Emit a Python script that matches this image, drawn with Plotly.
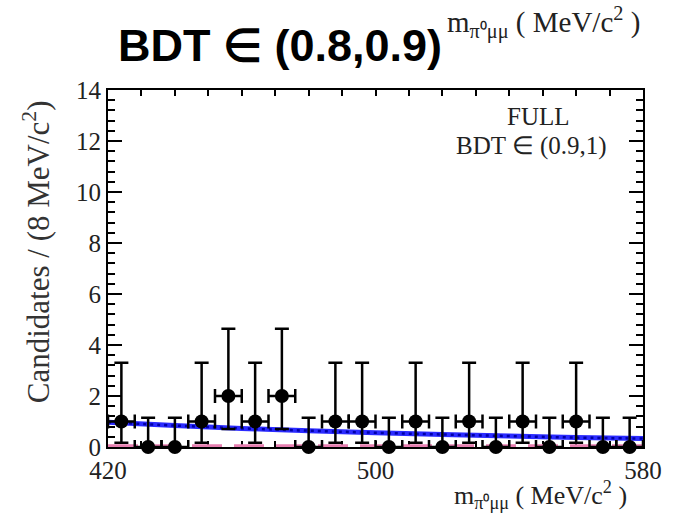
import plotly.graph_objects as go

# Binned data: 8 MeV/c^2 bins between 420 and 580 MeV/c^2
bin_centers = [424, 432, 440, 448, 456, 464, 472, 480, 488, 496,
               504, 512, 520, 528, 536, 544, 552, 560, 568, 576]
counts = [1, 0, 0, 1, 2, 1, 2, 0, 1, 1,
          0, 1, 0, 1, 0, 1, 0, 1, 0, 0]
half_bin = [4] * len(bin_centers)

# Asymmetric Poisson intervals (lower, upper) for each observed count
poisson_err = {0: (0.0, 1.15), 1: (0.83, 2.30), 2: (1.29, 2.64)}
err_lo = [poisson_err[c][0] for c in counts]
err_hi = [poisson_err[c][1] for c in counts]

# Fitted total model (background-dominated), sampled along the mass range
fit_mass = [420, 440, 460, 480, 500, 520, 540, 560, 580]
fit_total = [0.97, 0.84, 0.73, 0.64, 0.56, 0.49, 0.43, 0.37, 0.33]

# Signal component of the fit
sig_mass = [420, 580]
sig_values = [0.05, 0.05]

x_ticks = list(range(420, 581, 10))
x_ticktext = [str(v) if v in (420, 500, 580) else "" for v in x_ticks]
y_ticks = list(range(0, 15, 2))

serif = "Liberation Serif, Times New Roman, serif"
mass_title = "m<sub>π⁰μμ</sub>&nbsp;(&nbsp;MeV/c<sup>2</sup>&nbsp;)"

fig = go.Figure()

fig.add_trace(go.Scatter(
    x=sig_mass, y=sig_values, mode="lines",
    line=dict(color="#e67fb0", width=3, dash="30px,12px"),
    hoverinfo="skip", showlegend=False,
))

fig.add_trace(go.Scatter(
    x=fit_mass, y=fit_total, mode="lines", line_shape="spline",
    line=dict(color="#2b2bff", width=5),
    hoverinfo="skip", showlegend=False,
))
fig.add_trace(go.Scatter(
    x=fit_mass, y=fit_total, mode="lines", line_shape="spline",
    line=dict(color="#0000a8", width=2.5, dash="3px,4px"),
    hoverinfo="skip", showlegend=False,
))

fig.add_trace(go.Scatter(
    x=bin_centers, y=counts, mode="markers",
    marker=dict(color="black", size=14, symbol="circle"),
    error_y=dict(type="data", symmetric=False, array=err_hi, arrayminus=err_lo,
                 color="black", thickness=2.5, width=7),
    error_x=dict(type="data", array=half_bin, color="black", thickness=2.5, width=7),
    cliponaxis=False, showlegend=False,
))

fig.update_layout(
    width=674, height=514,
    margin=dict(l=108, r=22, t=90, b=67),
    paper_bgcolor="white", plot_bgcolor="white",
    font=dict(family=serif, size=24, color="black"),
    xaxis=dict(
        range=[420, 580], tickvals=x_ticks, ticktext=x_ticktext,
        ticks="inside", ticklen=6, tickwidth=2, tickcolor="black",
        showline=True, linecolor="black", linewidth=2, mirror="ticks",
        showgrid=False, zeroline=False, layer="below traces",
        tickfont=dict(family=serif, size=25, color="#222"),
    ),
    yaxis=dict(
        range=[0, 14], tickvals=y_ticks,
        ticks="inside", ticklen=14, tickwidth=2, tickcolor="black",
        minor=dict(dtick=0.4, ticks="inside", ticklen=7, tickwidth=2, tickcolor="black"),
        showline=True, linecolor="black", linewidth=2, mirror="ticks",
        showgrid=False, zeroline=False, layer="below traces",
        tickfont=dict(family=serif, size=25, color="#222"),
    ),
)

annotations = [
    dict(text="<b>BDT ∈ (0.8,0.9)</b>", x=283, y=45,
         font=dict(family="Liberation Sans, Arial, sans-serif", size=45, color="black")),
    dict(text=mass_title, x=551, y=22, font=dict(family=serif, size=29, color="#222")),
    dict(text=mass_title, x=548, y=495, font=dict(family=serif, size=26, color="#222")),
    dict(text="FULL", x=546, y=117, font=dict(family=serif, size=25, color="#222")),
    dict(text="BDT ∈ (0.9,1)", x=539, y=146, font=dict(family=serif, size=25, color="#222")),
    dict(text="Candidates / (8 MeV/c<sup>2</sup>)", x=36, y=252, textangle=-90,
         font=dict(family=serif, size=31, color="#333")),
]
plot_w = 674 - 108 - 22
plot_h = 514 - 90 - 67
for a in annotations:
    a.update(xref="paper", yref="paper", showarrow=False,
             xanchor="center", yanchor="middle")
    # place text by canvas pixel position, expressed in paper units
    a["x"] = (a["x"] - 108) / plot_w
    a["y"] = 1 - (a["y"] - 90) / plot_h
fig.update_layout(annotations=annotations)

fig.write_html("out.html")
